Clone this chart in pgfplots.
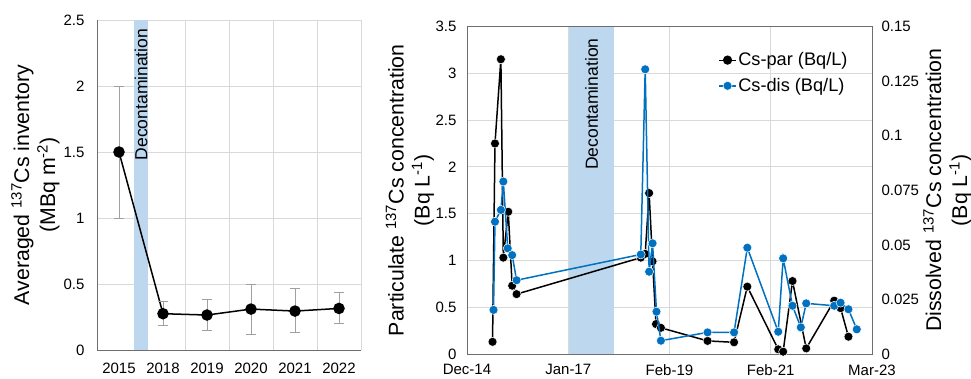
\documentclass[border=0pt]{standalone}
\usepackage{fontspec}
\setmainfont{Liberation Sans}
\usepackage{pgfplots}
\pgfplotsset{compat=1.18}
\definecolor{csblue}{RGB}{0,112,192}
\definecolor{bandblue}{RGB}{189,215,238}
\definecolor{gridgray}{RGB}{217,217,217}
\definecolor{axgray}{RGB}{110,110,110}
\definecolor{errgray}{RGB}{160,160,160}
\begin{document}
\begin{tikzpicture}
\pgfplotsset{
  base/.style={
    scale only axis,
    /pgf/number format/assume math mode=true,
    tick label style={font=\fontsize{15}{18}\selectfont},
    label style={font=\fontsize{21.3}{26}\selectfont, align=center},
    major tick length=0pt, minor tick length=0pt,
    grid style={gridgray, line width=0.8pt},
    axis line style={axgray, line width=0.8pt, -},
  }
}
% ---------------- Left panel ----------------
\begin{axis}[base,
  at={(97pt,-350pt)}, anchor=south west,
  width=264pt, height=330pt,
  xmin=-0.5, xmax=5.5, ymin=0, ymax=2.5,
  xtick={0,1,2,3,4,5}, xticklabels={2015,2018,2019,2020,2021,2022},
  minor xtick={0.5,1.5,2.5,3.5,4.5,5.5},
  ytick={0,0.5,1,1.5,2,2.5}, yticklabels={0,0.5,1,1.5,2,2.5},
  ymajorgrids, xminorgrids,
  axis x line*=bottom, axis y line*=left,
  yticklabel style={xshift=-9pt},
  xticklabel style={yshift=-9pt},
  ylabel={Averaged \textsuperscript{137}Cs inventory\\(MBq m\textsuperscript{-2})},
  ylabel style={at={(axis description cs:-0.233,0.5)}, anchor=center},
]
\addplot[fill=bandblue, draw=none, forget plot] coordinates {(0.34,0) (0.66,0) (0.66,2.5) (0.34,2.5)} -- cycle;
\node[rotate=90, anchor=east, font=\fontsize{17.5}{20}\selectfont] at (axis cs:0.5,2.46) {Decontamination};
\addplot[black, line width=1.5pt, mark=*, mark size=5pt,
  mark options={fill=black, draw=black},
  error bars/.cd, y dir=both, y explicit,
  error bar style={errgray, line width=0.8pt},
  error mark options={rotate=90, errgray, mark size=5pt, line width=0.8pt}]
coordinates {
  (0,1.5)   += (0,0.5)   -= (0,0.5)
  (1,0.275) += (0,0.095) -= (0,0.085)
  (2,0.265) += (0,0.115) -= (0,0.115)
  (3,0.31)  += (0,0.19)  -= (0,0.19)
  (4,0.295) += (0,0.175) -= (0,0.165)
  (5,0.315) += (0,0.125) -= (0,0.115)
};
\end{axis}
% ---------------- Right panel (left y axis) ----------------
\begin{axis}[base,
  at={(467pt,-354pt)}, anchor=south west,
  width=405pt, height=327.5pt,
  xmin=2014.92, xmax=2023.17, ymin=0, ymax=3.5,
  xtick={2014.92,2016.9825,2019.045,2021.1075,2023.17},
  xticklabels={Dec-14,Jan-17,Feb-19,Feb-21,Mar-23},
  ytick={0,0.5,1,1.5,2,2.5,3,3.5}, yticklabels={0,0.5,1,1.5,2,2.5,3,3.5},
  grid=major,
  yticklabel style={xshift=-7pt},
  xticklabel style={yshift=-7pt},
  ylabel={Particulate \textsuperscript{137}Cs concentration\\(Bq L\textsuperscript{-1})},
  ylabel style={at={(axis description cs:-0.141,0.5)}, anchor=center},
]
\addplot[fill=bandblue, draw=none, forget plot] coordinates {(2017.00,0) (2017.91,0) (2017.91,3.5) (2017.00,3.5)} -- cycle;
\node[rotate=90, anchor=east, font=\fontsize{17.5}{20}\selectfont] at (axis cs:2017.46,3.41) {Decontamination};
\addplot[black, line width=1.5pt, mark=*, mark size=4.5pt,
  mark options={fill=black, draw=white, line width=0.5pt}]
coordinates {
  (2015.44,0.13) (2015.49,2.25) (2015.61,3.15) (2015.66,1.03) (2015.76,1.52)
  (2015.84,0.73) (2015.93,0.64)
  (2018.46,1.03) (2018.55,1.07) (2018.63,1.72) (2018.70,0.99) (2018.77,0.32)
  (2018.87,0.28)
  (2019.82,0.14) (2020.36,0.125) (2020.63,0.72) (2021.26,0.05) (2021.36,0.025)
  (2021.55,0.78) (2021.83,0.06) (2022.40,0.57) (2022.53,0.49) (2022.69,0.185)
};
\end{axis}
% ---------------- Right panel (right y axis) ----------------
\begin{axis}[base,
  at={(467pt,-354pt)}, anchor=south west,
  width=405pt, height=327.5pt,
  xmin=2014.92, xmax=2023.17, ymin=0, ymax=0.15,
  axis x line=none, axis y line*=right,
  ytick={0,0.025,0.05,0.075,0.1,0.125,0.15},
  yticklabels={0,0.025,0.05,0.075,0.1,0.125,0.15},
  yticklabel style={xshift=6pt},
  ylabel={Dissolved \textsuperscript{137}Cs concentration\\(Bq L\textsuperscript{-1})},
  ylabel style={at={(axis description cs:1.186,0.5)}, anchor=center, rotate=0},
  legend style={at={(axis description cs:0.62,0.925)}, anchor=north west,
    draw=none, fill=none, font=\fontsize{18.2}{21}\selectfont,
    row sep=8pt, inner sep=0pt, nodes={inner sep=1.5pt}},
  legend cell align=left,
  legend image code/.code={\draw[mark repeat=2, mark phase=2, #1] plot coordinates {(0pt,0pt) (8.5pt,0pt) (17pt,0pt)};},
]
\addlegendimage{black, line width=1.2pt, mark=*, mark size=4pt, mark options={fill=black, draw=black}}
\addlegendentry{Cs-par (Bq/L)}
\addplot[csblue, line width=1.5pt, mark=*, mark size=4.5pt,
  mark options={fill=csblue, draw=white, line width=0.5pt}]
coordinates {
  (2015.46,0.0202) (2015.49,0.0606) (2015.61,0.066) (2015.66,0.079) (2015.75,0.0484)
  (2015.84,0.0453) (2015.93,0.0338)
  (2018.46,0.0456) (2018.55,0.1304) (2018.63,0.0377) (2018.70,0.0507) (2018.78,0.0194)
  (2018.87,0.0061)
  (2019.82,0.0099) (2020.36,0.0099) (2020.63,0.0487) (2021.26,0.0102) (2021.36,0.0438)
  (2021.55,0.0221) (2021.72,0.0122) (2021.83,0.0232) (2022.40,0.0221) (2022.53,0.0235)
  (2022.69,0.0205) (2022.86,0.0113)
};
\addlegendentry{Cs-dis (Bq/L)}
\end{axis}
\pgfresetboundingbox
\path[use as bounding box] (0pt,0pt) rectangle (971pt,-378pt);
\end{tikzpicture}
\end{document}
